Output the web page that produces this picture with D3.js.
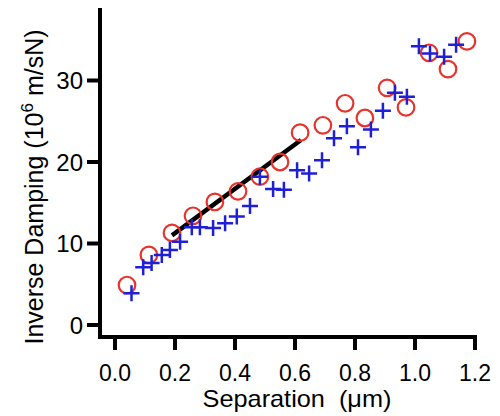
<!DOCTYPE html>
<html>
<head>
<meta charset="utf-8">
<script src="https://cdn.jsdelivr.net/npm/d3@7"></script>
<style>
  body { margin: 0; background: #fff; }
  text { font-family: "Liberation Sans", Arial, sans-serif; }
</style>
</head>
<body>
<svg id="chart" width="500" height="416"></svg>
<script>
// red circles (separation um, inverse damping)
let circleX = [0.04, 0.113, 0.19, 0.26, 0.333, 0.41, 0.483, 0.55, 0.617, 0.693, 0.767, 0.833, 0.907, 0.97, 1.047, 1.11, 1.173];
let circleY = [4.9, 8.6, 11.3, 13.4, 15.1, 16.4, 18.2, 20.0, 23.6, 24.5, 27.2, 25.4, 29.1, 26.7, 33.4, 31.4, 34.8];

// blue crosses
let crossX = [0.055, 0.094, 0.122, 0.156, 0.183, 0.217, 0.256, 0.283, 0.327, 0.367, 0.406, 0.45, 0.483, 0.527, 0.563,
    0.607, 0.647, 0.69, 0.73, 0.773, 0.81, 0.853, 0.893, 0.933, 0.973, 1.013, 1.05, 1.097, 1.137];
let crossY = [3.9, 7.1, 7.6, 8.6, 9.2, 10.2, 12.0, 12.0, 11.9, 12.5, 13.3, 14.6, 18.2, 16.7, 16.6,
    19.0, 18.6, 20.2, 22.9, 24.4, 21.8, 24.0, 26.3, 28.5, 28.0, 34.2, 33.3, 32.9, 34.4];

// linear fit segment
let fitX = [0.19, 0.62];
let fitY = [11.0, 22.7];

let xTicks = [0.0, 0.2, 0.4, 0.6, 0.8, 1.0, 1.2];
let yTicks = [0, 10, 20, 30];

let svg = d3.select("#chart");
let textColor = "#000";

let x = d3.scaleLinear()
    .domain([0, 1.2])
    .range([115, 475]);

let y = d3.scaleLinear()
    .domain([0, 30])
    .range([325, 80.5]);

// y axis (ticks on the left)
let yAxisX = 100;
svg.append("line")
    .attr("x1", yAxisX)
    .attr("x2", yAxisX)
    .attr("y1", y(38.9))
    .attr("y2", 339)
    .attr("stroke", textColor)
    .attr("stroke-width", 4);
for (let t of yTicks) {
    svg.append("line")
        .attr("x1", yAxisX - 13)
        .attr("x2", yAxisX)
        .attr("y1", y(t))
        .attr("y2", y(t))
        .attr("stroke", textColor)
        .attr("stroke-width", 4);
    svg.append("text")
        .attr("x", yAxisX - 17)
        .attr("y", y(t) + 8.5)
        .text(t)
        .style("text-anchor", "end")
        .style("font-size", 24);
}

// x axis, offset below zero
let xAxisY = 337;
svg.append("line")
    .attr("x1", yAxisX - 2)
    .attr("x2", x(1.2) + 2)
    .attr("y1", xAxisY)
    .attr("y2", xAxisY)
    .attr("stroke", textColor)
    .attr("stroke-width", 4);
for (let t of xTicks) {
    svg.append("line")
        .attr("x1", x(t))
        .attr("x2", x(t))
        .attr("y1", xAxisY)
        .attr("y2", xAxisY + 13)
        .attr("stroke", textColor)
        .attr("stroke-width", 4);
    svg.append("text")
        .attr("x", x(t))
        .attr("y", 381)
        .text(t.toFixed(1))
        .style("text-anchor", "middle")
        .style("font-size", 23);
}

// axis titles (x title slightly stretched like the original)
svg.append("text")
    .attr("transform", "translate(297,407) scale(1.1,1)")
    .style("text-anchor", "middle")
    .style("font-size", 23)
    .style("white-space", "pre")
    .text("Separation  (\u03bcm)");

let yTitle = svg.append("text")
    .attr("transform", "translate(43,187) rotate(-90)")
    .style("text-anchor", "middle")
    .style("font-size", 25);
yTitle.append("tspan").text("Inverse Damping (10");
yTitle.append("tspan").attr("dy", -10).style("font-size", 17).text("6");
yTitle.append("tspan").attr("dy", 10).text(" m/sN)");

// fit line
svg.append("line")
    .attr("x1", x(fitX[0]))
    .attr("x2", x(fitX[1]))
    .attr("y1", y(fitY[0]))
    .attr("y2", y(fitY[1]))
    .attr("stroke", textColor)
    .attr("stroke-width", 4.5);

// red circles
svg.append("g")
    .selectAll("circle")
    .data(circleX)
    .join("circle")
    .attr("cx", (d, i) => x(d))
    .attr("cy", (d, i) => y(circleY[i]))
    .attr("r", 8.3)
    .style("fill", "none")
    .style("stroke", "#e8322c")
    .attr("stroke-width", 2.2);

// blue crosses
let arm = 8;
svg.append("g")
    .selectAll("path")
    .data(crossX)
    .join("path")
    .attr("d", (d, i) => {
        let cx = x(d), cy = y(crossY[i]);
        return "M" + (cx - arm) + "," + cy + "H" + (cx + arm) + "M" + cx + "," + (cy - arm) + "V" + (cy + arm);
    })
    .style("fill", "none")
    .style("stroke", "#1f1fd6")
    .attr("stroke-width", 2.5);
</script>
</body>
</html>
